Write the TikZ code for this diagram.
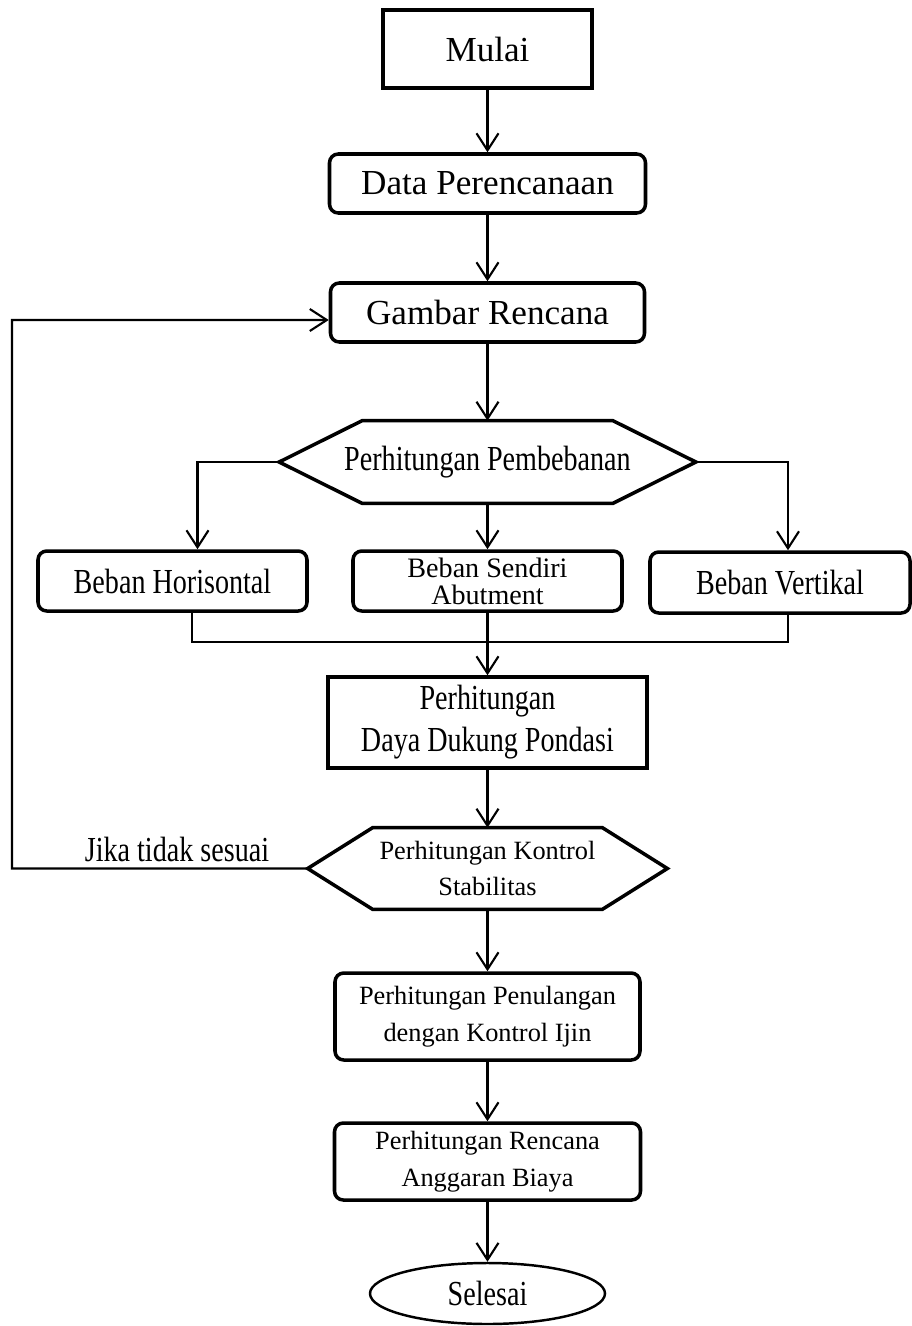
\documentclass[tikz,border=0pt]{standalone}
\usepackage{fontspec}
\setmainfont{Liberation Serif}
\newfontfamily\condfont{Liberation Serif}[FakeStretch=0.8]
\usetikzlibrary{arrows.meta, shapes.geometric}

\newcommand{\hexframe}[2]{%
    \draw[line width = 2pt] (#1.west) -- ([xshift = #2]#1.north west) -- ([xshift = -#2]#1.north east)
        -- (#1.east) -- ([xshift = -#2]#1.south east) -- ([xshift = #2]#1.south west) -- cycle;}

\begin{document}
\begin{tikzpicture}[
                box/.style = {draw, line width = 2pt, rounded corners = 5pt, align = center, inner sep = 0mm},
                rectbox/.style = {draw, line width = 2pt, align = center, inner sep = 0mm},
                hexbox/.style = {align = center, inner sep = 0mm},
                term/.style = {draw, ellipse, line width = 1.4pt, inner sep = 0mm},
                big/.style = {font = \fontsize{20}{24}\selectfont},
                cond/.style = {font = \condfont\fontsize{20}{24}\selectfont},
                small/.style = {font = \fontsize{15}{21}\selectfont},
                arr/.style = {draw, line width = 1.2pt, -{Straight Barb[length = 3.4mm, width = 4.4mm]}},
                link/.style = {draw, line width = 1.5pt},
            ]
            \useasboundingbox (0, 0) rectangle (18.24, -26.52);

            \node (mulai) at (9.75, -0.98) [rectbox, big, minimum width = 4.18cm, minimum height = 1.56cm] {Mulai};
            \node (data) at (9.75, -3.67) [box, big, minimum width = 6.32cm, minimum height = 1.18cm] {Data Perencanaan};
            \node (gambar) at (9.75, -6.25) [box, big, minimum width = 6.28cm, minimum height = 1.18cm] {Gambar Rencana};
            \node (pembebanan) at (9.75, -9.24) [hexbox, cond, minimum width = 8.32cm, minimum height = 1.64cm] {Perhitungan Pembebanan};

            \node (horisontal) at (3.45, -11.62) [box, cond, minimum width = 5.38cm, minimum height = 1.2cm] {Beban Horisontal};
            \node (abutment) at (9.75, -11.62) [box, font = \fontsize{16}{15.5}\selectfont, minimum width = 5.38cm, minimum height = 1.2cm] {Beban Sendiri\\Abutment};
            \node (vertikal) at (15.6, -11.65) [box, cond, minimum width = 5.2cm, minimum height = 1.22cm] {Beban Vertikal};

            \node (pondasi) at (9.75, -14.45) [rectbox, cond, minimum width = 6.38cm, minimum height = 1.82cm] {Perhitungan\\Daya Dukung Pondasi};
            \node (stabilitas) at (9.75, -17.37) [hexbox, small, minimum width = 7.18cm, minimum height = 1.62cm] {Perhitungan Kontrol\\Stabilitas};
            \node (jika) at (3.54, -16.98) [cond] {Jika tidak sesuai};
            \node (penulangan) at (9.75, -20.33) [box, small, minimum width = 6.1cm, minimum height = 1.74cm] {Perhitungan Penulangan\\dengan Kontrol Ijin};
            \node (anggaran) at (9.75, -23.23) [box, small, minimum width = 6.12cm, minimum height = 1.54cm] {Perhitungan Rencana\\Anggaran Biaya};
            \node (selesai) at (9.75, -25.87) [term, cond, minimum width = 4.7cm, minimum height = 1.22cm] {Selesai};

            \coordinate (merge) at (9.75, -12.84);
            \coordinate (back) at (0.24, -6.4);

            \hexframe{pembebanan}{1.66cm}
            \hexframe{stabilitas}{1.3cm}

            \path[arr] (mulai) -- (data);
            \path[arr] (data) -- (gambar);
            \path[arr] (gambar) -- (pembebanan);
            \path[arr] (pembebanan.west) -| ([xshift = 0.5cm]horisontal.north);
            \path[arr] (pembebanan) -- (abutment);
            \path[arr] (pembebanan.east) -| ([xshift = 0.16cm]vertikal.north);
            \path[link] ([xshift = 0.39cm]horisontal.south) |- (merge) -| ([xshift = 0.16cm]vertikal.south);
            \path[arr] (abutment) -- (pondasi);
            \path[arr] (pondasi) -- (stabilitas);
            \path[arr] (stabilitas) -- (penulangan);
            \path[arr] (penulangan) -- (anggaran);
            \path[arr] (anggaran) -- (selesai);
            \path[arr] (stabilitas.west) -| (back) -- ([yshift = -0.15cm]gambar.west);
        \end{tikzpicture}
\end{document}
